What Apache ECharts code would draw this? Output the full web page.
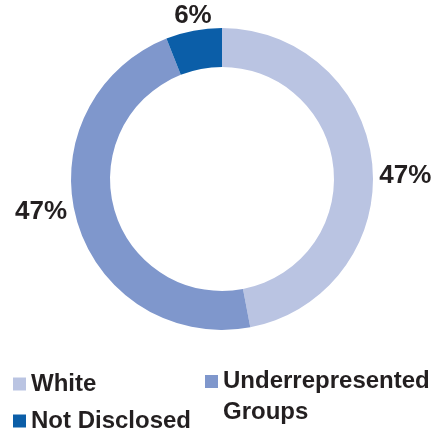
<!DOCTYPE html>
<html>
<head>
<meta charset="utf-8">
<script src="https://cdn.jsdelivr.net/npm/echarts@6/dist/echarts.min.js"></script>
<style>
  html, body { margin: 0; padding: 0; background: #ffffff; }
  #chart { width: 439px; height: 430px; }
</style>
</head>
<body>
<div id="chart"></div>
<script>
// Workforce composition shares (percent)
const categories = ['White', 'Underrepresented Groups', 'Not Disclosed'];
const shares = [47, 47, 6];
const colors = ['#bac4e2', '#7f97cc', '#0b5ea8'];

// Per-slice nudges for the outside percentage labels
const labelShift = [
  { dx: 2, dy: 11 },
  { dx: -5, dy: -9 },
  { dx: 23, dy: -15 }
];

const FONT = '"Liberation Sans", Arial, sans-serif';

const chart = echarts.init(document.getElementById('chart'), null, { renderer: 'canvas' });

const legendText = {
  fontFamily: FONT,
  fontWeight: 'bold',
  fontSize: 24,
  color: '#231f20'
};

chart.setOption({
  animation: false,
  color: colors,
  legend: [
    {
      // left column: White / Not Disclosed
      data: [categories[0], categories[2]],
      orient: 'vertical',
      left: 13,
      top: 372,
      height: 120,
      padding: 0,
      itemWidth: 13,
      itemHeight: 13,
      itemGap: 13,
      icon: 'rect',
      selectedMode: false,
      textStyle: Object.assign({}, legendText, { lineHeight: 18 })
    },
    {
      // right column: two-line label, swatch beside the first line
      data: [categories[1]],
      orient: 'vertical',
      left: 205,
      top: 335,
      height: 140,
      padding: 0,
      itemWidth: 13,
      itemHeight: 13,
      icon: 'rect',
      selectedMode: false,
      formatter: function (name) { return '\n' + name.replace(' ', '\n'); },
      textStyle: Object.assign({}, legendText, { lineHeight: 31 })
    }
  ],
  series: [
    {
      type: 'pie',
      center: [222, 179],
      radius: [112, 151],
      startAngle: 90,
      clockwise: true,
      avoidLabelOverlap: false,
      silent: true,
      label: {
        show: true,
        position: 'outside',
        formatter: '{c}%',
        fontFamily: FONT,
        fontWeight: 'bold',
        fontSize: 26,
        color: '#231f20'
      },
      labelLine: { show: false, length: 0, length2: 0 },
      labelLayout: function (params) {
        return labelShift[params.dataIndex];
      },
      data: categories.map(function (name, i) {
        return { name: name, value: shares[i] };
      })
    }
  ]
});
</script>
</body>
</html>
